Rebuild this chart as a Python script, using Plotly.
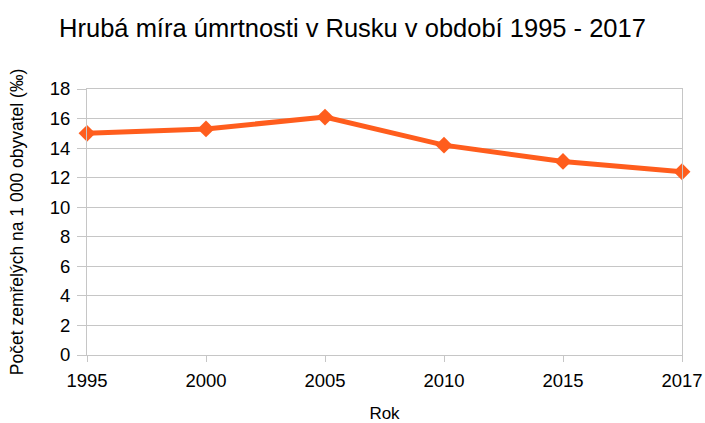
import plotly.graph_objects as go

years = ["1995", "2000", "2005", "2010", "2015", "2017"]
mortality = [15.0, 15.3, 16.1, 14.2, 13.1, 12.4]
y_ticks = [0, 2, 4, 6, 8, 10, 12, 14, 16, 18]

FONT = "Liberation Sans, Arial, sans-serif"
GRID = "#c6c6c6"
ORANGE = "#ff5d1d"

W, H = 705, 423

fig = go.Figure(go.Scatter(
    x=years, y=mortality, mode="lines+markers",
    line=dict(color=ORANGE, width=5),
    marker=dict(symbol="diamond", size=13, color=ORANGE),
    cliponaxis=False,
    showlegend=False,
))

fig.update_layout(
    width=W, height=H,
    margin=dict(l=87, r=23, t=89, b=68),
    paper_bgcolor="white", plot_bgcolor="white",
    font=dict(family=FONT, color="#000000"),
    title=dict(text="Hrubá míra úmrtnosti v Rusku v období 1995 - 2017",
               x=0.5, xanchor="center", y=1 - 28/H, yanchor="middle",
               font=dict(size=25.5, family=FONT, color="#000")),
    xaxis=dict(type="category", range=[0, 5], showgrid=False, automargin=False,
               showline=True, linecolor=GRID, linewidth=1, mirror=True,
               ticks="outside", ticklen=6, tickcolor=GRID,
               ticklabelstandoff=3,
               tickfont=dict(size=18.5), zeroline=False,
               title=dict(text="Rok", font=dict(size=17), standoff=18)),
    yaxis=dict(range=[0, 18], tickvals=y_ticks, showgrid=True, gridcolor=GRID,
               showline=True, linecolor=GRID, linewidth=1, mirror=True,
               automargin=False,
               ticks="outside", ticklen=9, tickcolor=GRID,
               ticklabelstandoff=3,
               tickfont=dict(size=18.5), zeroline=False,
               title=dict(text="Počet zemřelých na 1 000 obyvatel (‰)",
                          font=dict(size=17.5), standoff=21)),
)

# remove the default page margin so the figure fills the window exactly
fig.write_html(
    "out.html",
    config={"displayModeBar": False},
    post_script="document.body.style.margin='0';document.body.style.overflow='hidden';",
)
